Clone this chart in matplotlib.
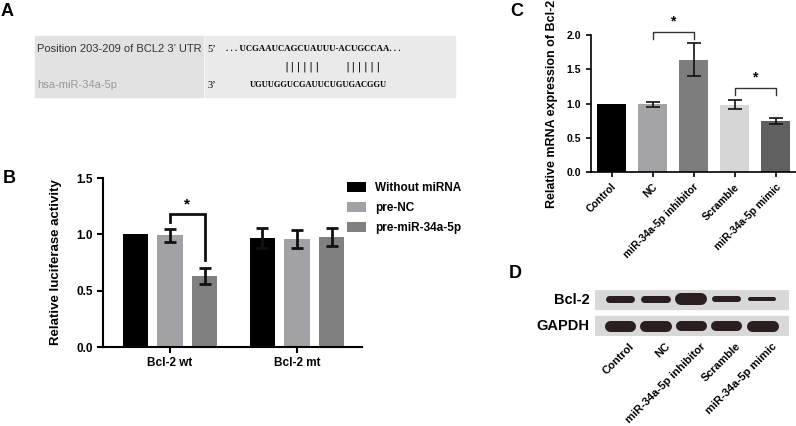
import numpy as np
import matplotlib
matplotlib.use('Agg')
import matplotlib.pyplot as plt
from matplotlib.patches import Rectangle

plt.rcParams['font.family'] = ['Liberation Sans', 'DejaVu Sans']
plt.rcParams['font.weight'] = 'bold'
plt.rcParams['axes.labelweight'] = 'bold'

W, H = 796, 426

# panel B: luciferase
b_groups = ['Bcl-2 wt', 'Bcl-2 mt']
b_series = ['Without miRNA', 'pre-NC', 'pre-miR-34a-5p']
b_vals = np.array([[1.00, 0.99, 0.63],
                   [0.97, 0.96, 0.98]])
b_err = np.array([[0.00, 0.06, 0.075],
                  [0.09, 0.08, 0.08]])
b_colors = ['#000000', '#a2a2a6', '#808080']

# panel C: qPCR
c_labels = ['Control', 'NC', 'miR-34a-5p inhibitor', 'Scramble', 'miR-34a-5p mimic']
c_vals = [1.00, 0.99, 1.64, 0.98, 0.75]
c_err = [0.0, 0.035, 0.24, 0.065, 0.045]
c_colors = ['#000000', '#a3a3a8', '#7d7d7d', '#d6d6d6', '#606060']

# panel D: western blot band thickness (px)
d_rows = ['Bcl-2', 'GAPDH']
d_bcl2 = [7, 7, 12, 6, 4]
d_gapdh = [11, 11, 10, 10, 11]

# panel A: sequence alignment
a_target = 'Position 203-209 of BCL2 3\u2019 UTR'
a_mirna = 'hsa-miR-34a-5p'
a_seq_top = '. . . UCGAAUCAGCUAUUU-ACUGCCAA. . .'
a_pairs = ['||||||', '||||||']
a_seq_bot = 'UGUUGGUCGAUUCUGUGACGGU'


def fx(x):
    return x / W


def fy(y):
    return 1 - y / H


def box(x0, y0, x1, y1):
    return [fx(x0), fy(y1), fx(x1) - fx(x0), fy(y0) - fy(y1)]


fig = plt.figure(figsize=(W / 100, H / 100), dpi=100)

# ---- A ----
fig.text(fx(1), fy(11), 'A', fontsize=13, va='center', ha='left')
fig.patches.append(Rectangle((fx(35), fy(97)), fx(203) - fx(35), fy(36) - fy(97),
                             transform=fig.transFigure, color='#e2e2e2', zorder=0))
fig.patches.append(Rectangle((fx(205), fy(97)), fx(455) - fx(205), fy(36) - fy(97),
                             transform=fig.transFigure, color='#eaeaea', zorder=0))
fig.text(fx(37), fy(49), a_target, fontsize=8.0, weight='normal', color='#333333', va='center')
fig.text(fx(37), fy(85), a_mirna, fontsize=8.0, weight='normal', color='#999999', va='center')
fig.text(fx(207), fy(49), '5\u2019', fontsize=7.5, weight='normal', family='Liberation Serif', va='center')
fig.text(fx(207), fy(85), '3\u2019', fontsize=7.5, weight='normal', family='Liberation Serif', va='center')
fig.text(fx(226), fy(49), a_seq_top, fontsize=6.3, family='Liberation Serif', va='center')
fig.text(fx(283), fy(67), a_pairs[0], fontsize=7.5, weight='normal', family='DejaVu Sans Mono', va='center')
fig.text(fx(344), fy(67), a_pairs[1], fontsize=7.5, weight='normal', family='DejaVu Sans Mono', va='center')
fig.text(fx(250), fy(85), a_seq_bot, fontsize=6.0, family='Liberation Serif', va='center')

# ---- B ----
fig.text(fx(3), fy(179), 'B', fontsize=13, va='center', ha='left')
axb = fig.add_axes(box(103, 178, 362, 347))
gx = np.arange(len(b_groups))
off = 0.272
for j in range(len(b_series)):
    axb.bar(gx + (j - 1) * off, b_vals[:, j], 0.2, color=b_colors[j], label=b_series[j], zorder=2)
    e = b_err[:, j]
    m = e > 0
    axb.errorbar((gx + (j - 1) * off)[m], b_vals[m, j], yerr=e[m], fmt='none', ecolor='#111111',
                 elinewidth=2.0, capsize=4.3, capthick=2.0, zorder=3)
axb.set_xlim(-0.528, 1.512)
axb.set_ylim(0, 1.5)
axb.set_yticks([0, 0.5, 1.0, 1.5])
axb.set_yticklabels(['0.0', '0.5', '1.0', '1.5'])
axb.set_xticks(gx)
axb.set_xticklabels(b_groups)
axb.set_ylabel('Relative luciferase activity', fontsize=9.5)
axb.yaxis.set_label_coords(-0.158, 0.5)
for s in ['top', 'right']:
    axb.spines[s].set_visible(False)
for s in ['left', 'bottom']:
    axb.spines[s].set_linewidth(1.5)
axb.tick_params(width=1.5, length=4, labelsize=8.5)
# significance bracket
x1, x2 = gx[0], gx[0] + off
axb.plot([x1, x1, x2, x2], [1.11, 1.18, 1.18, 0.77], color='#111111', lw=2.0,
         solid_joinstyle='miter')
axb.text((x1 + x2) / 2, 1.2, '*', ha='center', va='bottom', fontsize=11)
axb.legend(loc='upper left', bbox_to_anchor=(0.9, 1.04), frameon=False, fontsize=8.5,
           handlelength=1.6, handleheight=1.0, labelspacing=0.65, handletextpad=0.8)

# ---- C ----
fig.text(fx(510), fy(11), 'C', fontsize=13, va='center', ha='left')
axc = fig.add_axes(box(591, 35, 796, 172))
cx = np.arange(len(c_labels))
axc.bar(cx, c_vals, 0.71, color=c_colors, zorder=2)
ce = np.array(c_err)
cm = ce > 0
axc.errorbar(cx[cm], np.array(c_vals)[cm], yerr=ce[cm], fmt='none', ecolor='#111111',
             elinewidth=1.2, capsize=4.7, capthick=1.2, zorder=3)
axc.set_xlim(-0.5, 4.5)
axc.set_ylim(0, 2.0)
axc.set_yticks([0, 0.5, 1.0, 1.5, 2.0])
axc.set_yticklabels(['0.0', '0.5', '1.0', '1.5', '2.0'])
axc.set_xticks(cx)
axc.set_xticklabels(c_labels, rotation=45, ha='right', rotation_mode='anchor')
axc.set_ylabel('Relative mRNA expression of Bcl-2', fontsize=9)
axc.yaxis.set_label_coords(-0.16, 0.5)
for s in ['top', 'right']:
    axc.spines[s].set_visible(False)
for s in ['left', 'bottom']:
    axc.spines[s].set_linewidth(1.2)
axc.tick_params(width=1.2, length=3.5, labelsize=7.5)
# brackets
for (i, j, yb) in [(1, 2, 2.04), (3, 4, 1.23)]:
    axc.plot([i, i, j, j], [yb - 0.1, yb, yb, yb - 0.1], color='#333333', lw=1.0, clip_on=False)
    axc.text((i + j) / 2, yb + 0.05, '*', ha='center', va='bottom', fontsize=10)

# ---- D ----
fig.text(fx(509), fy(274), 'D', fontsize=13, va='center', ha='left')
axd = fig.add_axes(box(595, 290, 789, 336))
axd.set_xlim(-0.7, 4.75)
axd.set_ylim(0, 2.3)
axd.axis('off')
ppu = 194 / 5.45  # px per lane unit
strips = [(1.35, 0.95), (0.0, 1.0)]
band_y = [1.85, 0.5]
for r, (name, vals) in enumerate(zip(d_rows, [d_bcl2, d_gapdh])):
    axd.add_patch(Rectangle((-0.7, strips[r][0]), 5.45, strips[r][1],
                            color='#d8d8d8', zorder=0))
    for i, t in enumerate(vals):
        wpx = 26 + 0.5 * t
        half = (wpx / 2 - t / 2) / ppu
        axd.plot([i - half, i + half], [band_y[r], band_y[r]], color='#2a1e1e',
                 lw=t * 0.72, solid_capstyle='round')
    axd.text(-0.85, strips[r][0] + strips[r][1] / 2, name, ha='right', va='center', fontsize=10.5)
for i, lab in enumerate(c_labels):
    axd.text(i + 0.25, -0.25, lab, rotation=45, ha='right', va='top', rotation_mode='anchor',
             fontsize=8)

fig.savefig('out.png', dpi=100)
